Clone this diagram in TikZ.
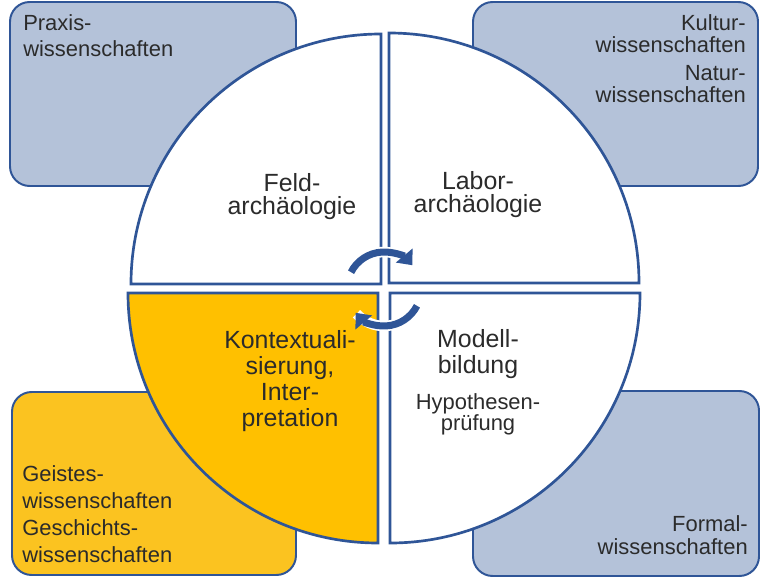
\documentclass[tikz,border=0pt]{standalone}
\usepackage{fontspec}
\setmainfont{Liberation Sans}
\usetikzlibrary{arrows.meta}
\definecolor{rimblue}{HTML}{2F5597}
\definecolor{boxblue}{HTML}{B4C2D9}
\definecolor{boxgold}{HTML}{FBC320}
\definecolor{quadgold}{HTML}{FFC000}
\definecolor{txtgray}{HTML}{2B2B2B}

\begin{document}
\begin{tikzpicture}[x=0.025cm, y=0.025cm,
  field/.style={draw=rimblue, line width=1.4pt, rounded corners=14pt},
  quarter/.style={draw=rimblue, line width=1.9pt},
  small/.style={text=txtgray, font=\fontsize{15.6}{19.1}\selectfont, inner sep=0pt},
  big/.style={text=txtgray, font=\fontsize{17.7}{18.4}\selectfont, inner sep=0pt, align=center},
  turn/.style={rimblue, line width=5pt, -{Triangle[length=9pt,width=15pt]}},
  halo/.style={white, line width=7.5pt}]
  \fill[white] (0,0) rectangle (768,580);
  \useasboundingbox (0,0) rectangle (768,580);
  \draw[field, fill=boxblue] (10,394) rectangle (296,578);
  \draw[field, fill=boxblue] (473,394) rectangle (758,578);
  \draw[field, fill=boxgold] (12,5) rectangle (296,188);
  \draw[field, fill=boxblue] (473,4) rectangle (759,189);
  \draw[quarter, fill=white] (381,296) -- (131,296) arc[start angle=180, end angle=90, radius=250] -- cycle;
  \draw[quarter, fill=white] (389,297) -- (389,547) arc[start angle=90, end angle=0, radius=250] -- cycle;
  \draw[quarter, fill=quadgold] (378,287) -- (378,37) arc[start angle=270, end angle=180, radius=250] -- cycle;
  \draw[quarter, fill=white] (390,287) -- (640,287) arc[start angle=0, end angle=-90, radius=250] -- cycle;
  \coordinate (hub) at (384,291);
  \draw[halo] ([shift={(153:37)}]hub) arc[start angle=153, end angle=42, radius=37];
  \draw[turn] ([shift={(153:37)}]hub) arc[start angle=153, end angle=40, radius=37];
  \draw[halo] ([shift={(-27:37)}]hub) arc[start angle=-27, end angle=-138, radius=37];
  \draw[turn] ([shift={(-27:37)}]hub) arc[start angle=-27, end angle=-140, radius=37];
  \node[small, align=left, anchor=base west] (praxis) at (23,523) {Praxis-\\wissenschaften};
  \node[small, align=right, anchor=base east, font=\fontsize{15.6}{16}\selectfont] (kultur) at (746,527) {Kultur-\\wissenschaften};
  \node[small, align=right, anchor=base east, font=\fontsize{15.6}{16}\selectfont] (natur) at (746,477) {Natur-\\wissenschaften};
  \node[small, align=left, anchor=base west] (geist) at (22,18) {Geistes-\\wissenschaften\\Geschichts-\\wissenschaften};
  \node[small, align=right, anchor=base east, font=\fontsize{15.6}{16.3}\selectfont] (formal) at (748,26) {Formal-\\wissenschaften};
  \node[big, anchor=base, font=\fontsize{17.7}{16.7}\selectfont] (feld) at (292,365) {Feld-\\archäologie};
  \node[big, anchor=base, font=\fontsize{17.7}{16.7}\selectfont] (labor) at (478,367) {Labor-\\archäologie};
  \node[big, anchor=base] (kontext) at (290,154) {Kontextuali-\\sierung,\\Inter-\\pretation};
  \node[big, anchor=base] (modell) at (478,207) {Modell-\\bildung};
  \node[small, align=center, anchor=base, font=\fontsize{15.6}{14.9}\selectfont] (hypo) at (478,150) {Hypothesen-\\prüfung};
\end{tikzpicture}
\end{document}
